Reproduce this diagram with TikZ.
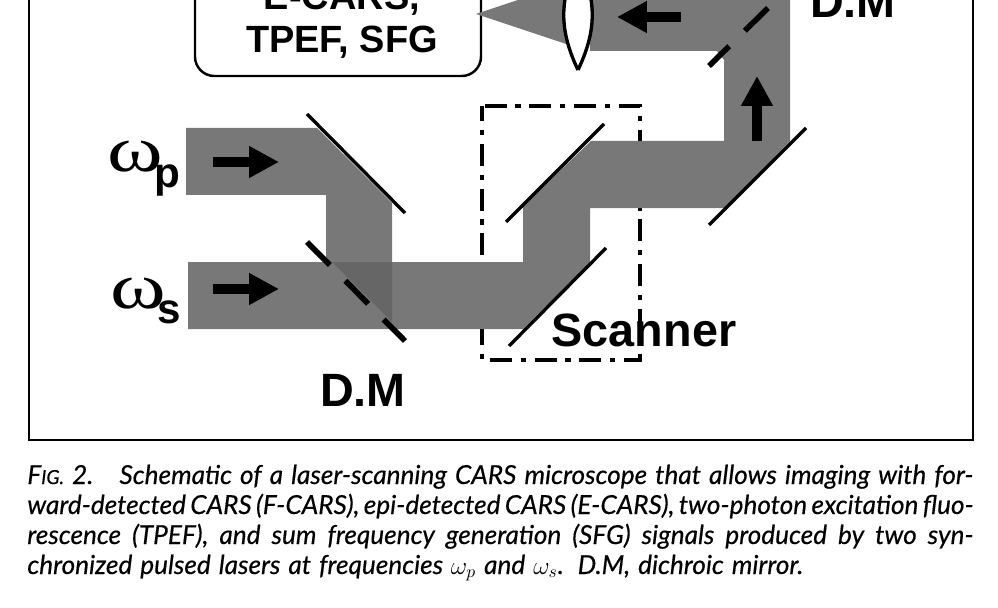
\documentclass[tikz,border=0pt]{standalone}
\usepackage{graphicx}
\usepackage{fontspec}
\setmainfont{Liberation Sans}
\newfontfamily\symfont{Liberation Serif}
\newfontfamily\capfont{Lato}[ItalicFont=* Italic, ItalicFeatures={FakeBold=0.4}]
\usetikzlibrary{arrows.meta}
\definecolor{beam}{HTML}{787878}
\definecolor{overlap}{HTML}{666666}
\tikzset{
  lab/.style={font=\bfseries\fontsize{26.6}{30}\selectfont, anchor=base, inner sep=0pt},
  omlab/.style={anchor=base west, inner sep=0pt},
  capline/.style={anchor=base west, inner sep=0pt, font=\capfont\itshape\fontsize{14.9}{18}\selectfont},
  flow/.style={line width=5.7pt, -{Triangle[length=17pt, width=17pt]}},
  mirror/.style={line width=1.9pt},
  dm/.style={line width=3.2pt, dash pattern=on 18.5pt off 12.5pt},
  scanbox/.style={line width=2pt, dash pattern=on 12.5pt off 5pt on 3pt off 5pt, dash phase=4pt}
}
\newcommand{\omlabel}[1]{\scalebox{1.3}[1]{\symfont\fontsize{37}{37}\selectfont ω}\hspace{-5pt}\lower9pt\hbox{\bfseries\fontsize{24}{28}\selectfont #1}}
\begin{document}
\begin{tikzpicture}[x=0.02cm, y=-0.02cm]
  \clip (0,0) rectangle (998,608);
  \draw[line width=1.2pt] (29,-20) rectangle (973,440);
  \draw[scanbox] (482,106) -- (482,360) -- (640,360) -- (640,106) -- cycle;
  \draw[line width=1.4pt, rounded corners=11pt] (195,-60) rectangle (481,76);
  \fill[beam] (186,128) -- (317,128) -- (392,203) -- (392,322) -- (326,258) -- (326,195) -- (186,195) -- cycle;
  \fill[beam] (188,262) -- (523,262) -- (523,206) -- (591,141) -- (724,141) -- (724,60) -- (717,51)
     -- (590,51) -- (590,-20) -- (790,-20) -- (790,141) -- (725,208) -- (590,208) -- (590,263) -- (523,329) -- (188,329) -- cycle;
  \fill[overlap] (332,262) -- (392,262) -- (392,322) -- cycle;
  \fill[beam] (476,14) -- (566,44) -- (566,-16) -- cycle;
  \draw[line width=1.9pt, fill=white] (578,70) .. controls (559,30) and (559,0) .. (578,-40) .. controls (597,0) and (597,30) .. (578,70);
  \draw[mirror] (307,114) -- (405,213);
  \draw[mirror] (604,124) -- (506,222);
  \draw[mirror] (606,248) -- (509,346);
  \draw[mirror] (806,128) -- (709,225);
  \draw[dm] (307,242) -- (405,341);
  \draw[dm] (768,8) -- (709,66);
  \draw[flow] (213,162) -- (279,162);
  \draw[flow] (213,289) -- (279,289);
  \draw[flow] (681,17) -- (617,17);
  \draw[flow] (757,141) -- (757,76);
  \node[lab, align=center, anchor=south, font=\bfseries\fontsize{21.6}{24.5}\selectfont] (detect) at (342,59) {E-CARS,\\TPEF, SFG};
  \node[omlab] (wp) at (107,172) {\omlabel{p}};
  \node[omlab] (ws) at (110,308) {\omlabel{s}};
  \node[lab] (dm1) at (363,406) {D.M};
  \node[lab] (dm2) at (853,18) {D.M};
  \node[lab] (scan) at (644,346) {Scanner};
  \node[capline] (c1) at (27,484) {\hbox to 946\dimexpr0.02cm\relax{F{\fontsize{11}{13}\selectfont IG.} 2.\hspace{1em}Schematic of a laser-scanning CARS microscope that allows imaging with for-}};
  \node[capline] (c2) at (27,514) {\hbox to 946\dimexpr0.02cm\relax{ward-detected CARS (F-CARS), epi-detected CARS (E-CARS), two-photon excitation fluo-}};
  \node[capline] (c3) at (27,544) {\hbox to 946\dimexpr0.02cm\relax{rescence (TPEF), and sum frequency generation (SFG) signals produced by two syn-}};
  \node[capline] (c4) at (27,574) {\hbox to 776\dimexpr0.02cm\relax{chronized pulsed lasers at frequencies $\omega_p$ and $\omega_s$. D.M, dichroic mirror.}};
\end{tikzpicture}
\end{document}
